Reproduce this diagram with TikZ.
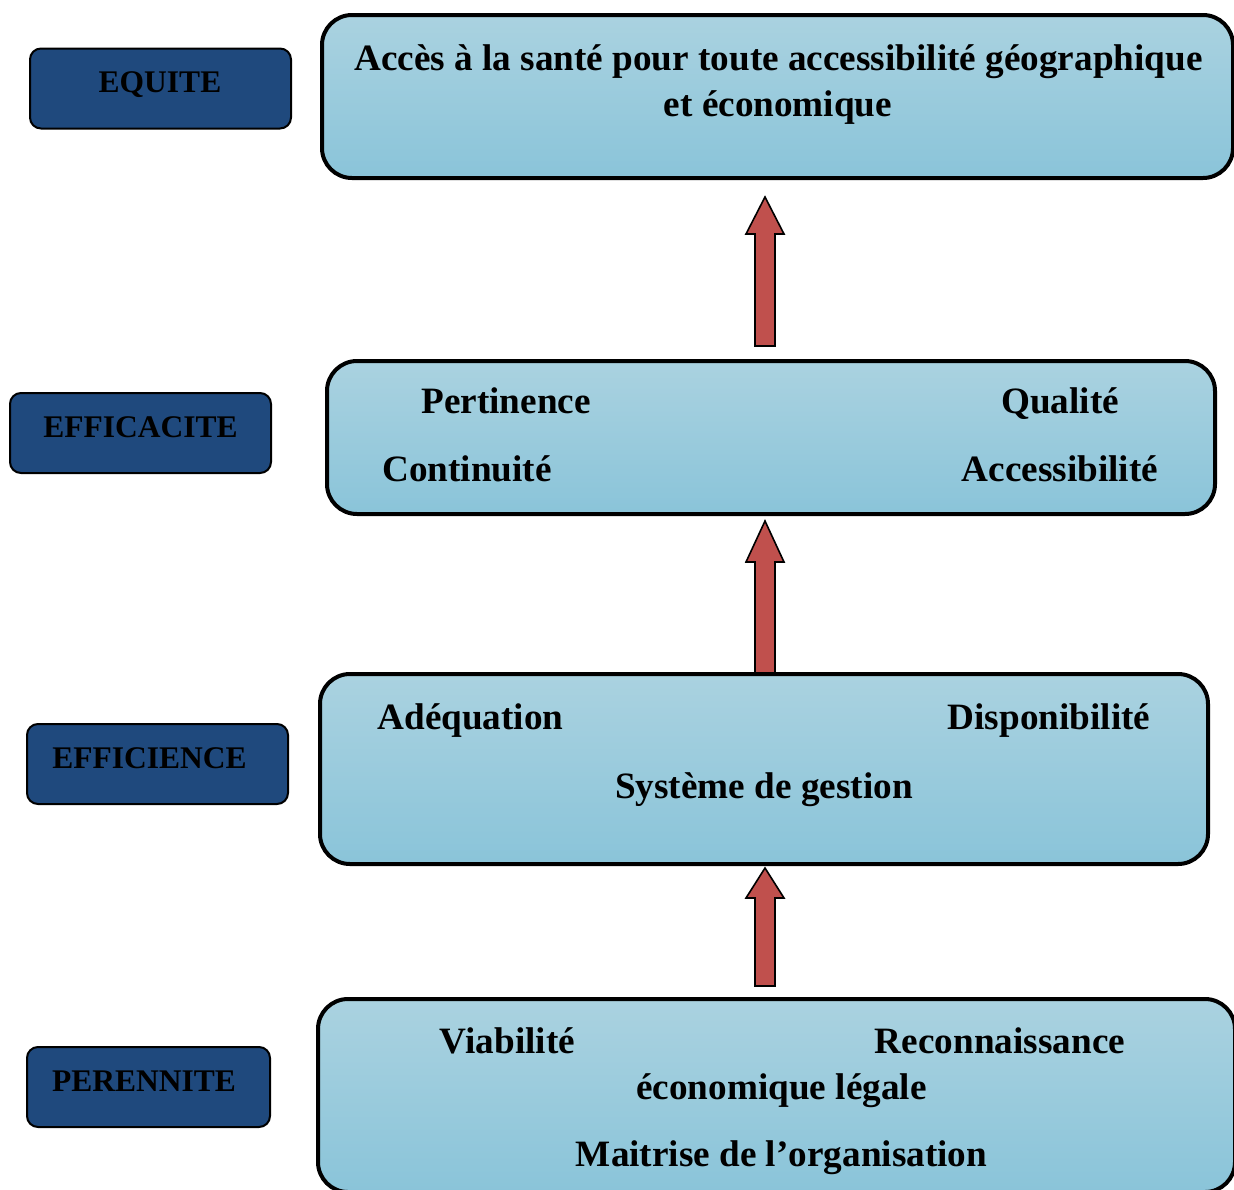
\documentclass[tikz,border=0pt]{standalone}
\usepackage{fontspec}
\setmainfont{Liberation Serif}
\definecolor{boxtop}{RGB}{170,210,224}
\definecolor{boxbot}{RGB}{138,196,217}
\definecolor{labblue}{RGB}{31,73,125}
\definecolor{arrred}{RGB}{192,80,77}
\tikzset{
  bigbox/.style={draw=black, line width=4pt, rounded corners=30pt, top color=boxtop, bottom color=boxbot, inner sep=0pt},
  labbox/.style={draw=black, line width=2pt, rounded corners=11pt, fill=labblue, inner sep=0pt, minimum width=261pt, minimum height=80pt},
  labtext/.style={anchor=base, inner sep=0pt, font=\fontsize{31.5}{36}\selectfont\bfseries},
  boxtext/.style={anchor=base, inner sep=0pt, font=\fontsize{37.2}{43}\selectfont\bfseries},
  blockarrow/.style={draw=black, line width=1.6pt, fill=arrred, line join=miter}
}
\begin{document}
\begin{tikzpicture}[x=1pt,y=-1pt]
\useasboundingbox (0,0) rectangle (1234,1189);
% big boxes
\node[bigbox, minimum width=911pt, minimum height=163pt] (b1) at (777.5,96.5) {};
\node[bigbox, minimum width=888pt, minimum height=153pt] (b2) at (771,437.5) {};
\node[bigbox, minimum width=888pt, minimum height=190pt] (b3) at (764,769) {};
\node[bigbox, minimum width=917pt, minimum height=193pt] (b4) at (776.5,1095.5) {};
% labels
\node[labbox] (l1) at (160.5,88.5) {};
\node[labbox] (l2) at (140.5,433) {};
\node[labbox] (l3) at (157.5,764) {};
\node[labbox, minimum width=243pt] (l4) at (148.5,1087) {};
\node[labtext] (t1) at (160,92) {EQUITE};
\node[labtext] (t2) at (140.5,437) {EFFICACITE};
\node[labtext] (t3) at (149.5,768) {EFFICIENCE};
\node[labtext] (t4) at (144,1091) {PERENNITE};
% box texts
\node[boxtext] (a1) at (778.5,70) {Accès à la santé pour toute accessibilité géographique};
\node[boxtext] (a2) at (778,116) {et économique};
\node[boxtext] (p1) at (506,413) {Pertinence};
\node[boxtext] (p2) at (1060,413) {Qualité};
\node[boxtext] (p3) at (467,481) {Continuité};
\node[boxtext] (p4) at (1060,481) {Accessibilité};
\node[boxtext] (e1) at (470.5,729) {Adéquation};
\node[boxtext] (e2) at (1049,729) {Disponibilité};
\node[boxtext] (e3) at (764,798) {Système de gestion};
\node[boxtext] (v1) at (507.5,1053) {Viabilité};
\node[boxtext] (v2) at (1000,1053) {Reconnaissance};
\node[boxtext] (v3) at (781.5,1099) {économique légale};
\node[boxtext] (v4) at (781.5,1166) {Maitrise de l’organisation};
% arrows
\draw[blockarrow] (755,346) -- (755,234) -- (746,234) -- (765,197) -- (784,234) -- (775,234) -- (775,346) -- cycle;
\draw[blockarrow] (755,673) -- (755,562) -- (746,562) -- (765,521) -- (784,562) -- (775,562) -- (775,673) -- cycle;
\draw[blockarrow] (755,986) -- (755,898) -- (746,898) -- (765,868) -- (784,898) -- (775,898) -- (775,986) -- cycle;
\end{tikzpicture}
\end{document}
